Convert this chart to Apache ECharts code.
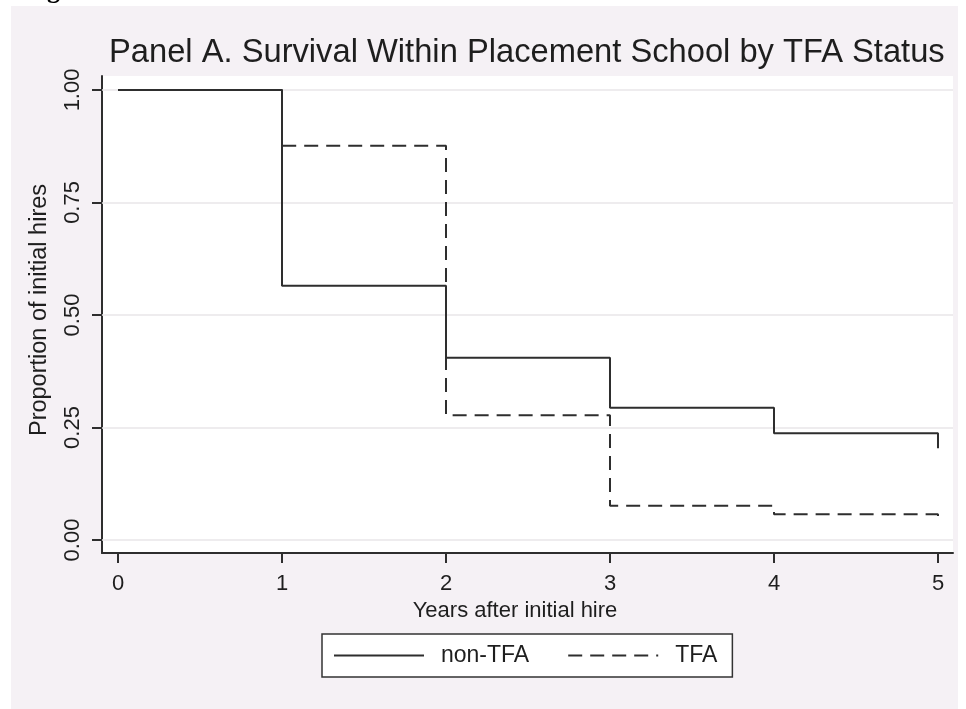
<!DOCTYPE html>
<html>
<head>
<meta charset="utf-8">
<script src="https://cdn.jsdelivr.net/npm/echarts@6/dist/echarts.min.js"></script>
<style>
html,body{margin:0;padding:0;background:#fff;}
#chart{width:966px;height:709px;}
</style>
</head>
<body>
<div id="chart"></div>
<script>
// ---- data ----
const years = [0, 1, 2, 3, 4, 5];
const nonTFA = [1.00, 0.565, 0.405, 0.294, 0.237, 0.204];
const tfa = [1.00, 0.876, 0.277, 0.076, 0.057, 0.042];
const xTickValues = [0, 1, 2, 3, 4, 5];
const yTickValues = [0, 0.25, 0.5, 0.75, 1];
const seriesNames = ['non-TFA', 'TFA'];
const titleText = 'Panel A. Survival Within Placement School by TFA Status';
const xTitle = 'Years after initial hire';
const yTitle = 'Proportion of initial hires';

const FONT = '"Liberation Sans", Arial, sans-serif';
const INK = '#1e1e1e';
const LINE = '#2e2e2e';

const chart = echarts.init(document.getElementById('chart'), null, {renderer: 'canvas'});

const zip = (xs, ys) => xs.map((x, i) => [x, ys[i]]);

const option = {
  animation: false,
  backgroundColor: '#ffffff',
  graphic: [
    {
      type: 'rect', z: -10,
      shape: {x: 11, y: 6, width: 947, height: 703},
      style: {fill: '#F5F1F5'}
    },
    {
      type: 'text', z: 10, x: 24, y: -9,
      style: {text: 'Figure 1.', font: 'bold 26px "Liberation Serif", serif', fill: '#000', verticalAlign: 'middle'}
    }
  ],
  title: {
    text: titleText,
    left: 109, top: 36, padding: 0,
    textStyle: {fontFamily: FONT, fontSize: 32.7, fontWeight: 'normal', color: INK}
  },
  legend: {
    data: seriesNames,
    left: 322, top: 634,
    orient: 'horizontal',
    padding: [10, 15, 10, 11],
    itemWidth: 90, itemHeight: 14, itemGap: 38,
    backgroundColor: '#ffffff',
    borderColor: '#333333', borderWidth: 1.5, borderRadius: 0,
    itemStyle: {opacity: 0},
    lineStyle: {opacity: 1},
    textStyle: {fontFamily: FONT, fontSize: 23, color: INK, lineHeight: 23, padding: [0, 0, 0, 12]}
  },
  grid: {
    left: 102, top: 76, width: 851, height: 477,
    show: true, backgroundColor: '#ffffff', borderWidth: 0,
    containLabel: false
  },
  xAxis: {
    type: 'value',
    min: -0.0976, max: 5.0915,
    axisLine: {show: true, onZero: false, lineStyle: {color: LINE, width: 2}},
    axisTick: {show: true, length: 10, customValues: xTickValues, lineStyle: {color: LINE, width: 2}},
    axisLabel: {customValues: xTickValues, margin: 20, fontFamily: FONT, fontSize: 22, color: INK},
    splitLine: {show: false},
    name: xTitle, nameLocation: 'middle', nameGap: 40,
    nameTextStyle: {fontFamily: FONT, fontSize: 22, color: INK, padding: [0, 25, 0, 0]}
  },
  yAxis: {
    type: 'value',
    min: -0.0289, max: 1.031,
    axisLine: {show: true, onZero: false, lineStyle: {color: LINE, width: 2}},
    axisTick: {show: true, length: 10, customValues: yTickValues, lineStyle: {color: LINE, width: 2}},
    axisLabel: {customValues: yTickValues, rotate: 90, margin: 18, fontFamily: FONT, fontSize: 22, color: INK,
      formatter: v => v.toFixed(2)},
    splitLine: {show: false},
    name: yTitle, nameLocation: 'middle', nameGap: 50, nameRotate: 90,
    nameTextStyle: {fontFamily: FONT, fontSize: 23.5, color: INK, padding: [0, 0, 0, 9]}
  },
  series: [
    {
      name: '_grid', type: 'line', data: [], z: 1, silent: true,
      markLine: {
        silent: true, z: 1, symbol: ['none', 'none'], label: {show: false},
        lineStyle: {color: '#E9E6E9', width: 1.5, type: 'solid'},
        data: yTickValues.map(v => ({yAxis: v}))
      }
    },
    {
      name: seriesNames[0], type: 'line', step: 'end', symbol: 'none', z: 4,
      lineStyle: {color: LINE, width: 2, type: 'solid'},
      itemStyle: {color: LINE},
      data: zip(years, nonTFA)
    },
    {
      name: seriesNames[1], type: 'line', step: 'end', symbol: 'none', z: 3,
      lineStyle: {color: LINE, width: 2, type: [14, 8]},
      itemStyle: {color: LINE},
      data: zip(years, tfa)
    }
  ]
};
chart.setOption(option);
</script>
</body>
</html>
